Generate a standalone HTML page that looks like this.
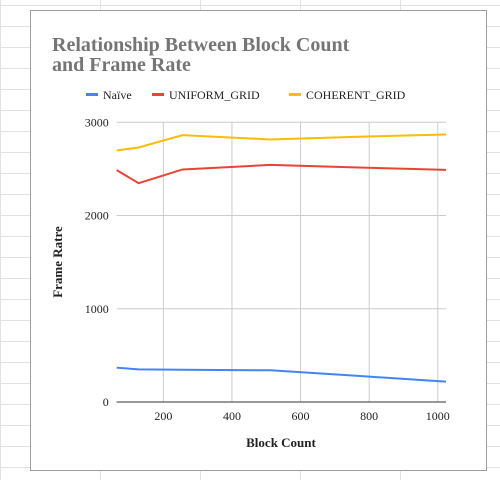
<!DOCTYPE html>
<html><head><meta charset="utf-8"><style>
body{margin:0;background:#fff;}
svg{display:block;font-family:"Liberation Serif",serif;}
</style></head><body>
<svg width="500" height="480">
<g id="bggrid" stroke="#e2e2e2" stroke-width="1"></g>
<rect x="30.5" y="10.5" width="456" height="460" fill="#fff" stroke="#9e9e9e"/>
<text x="52" y="51" font-size="20" font-weight="bold" fill="#757575">Relationship Between Block Count</text>
<text x="52" y="71" font-size="20" font-weight="bold" fill="#757575">and Frame Rate</text>
<g id="legend" font-size="12" fill="#222"></g>
<g id="grid"></g>
<g id="lines"></g>
<g id="ticks" font-size="12" fill="#222"></g>
<text x="281" y="447" font-size="13" font-weight="bold" text-anchor="middle" fill="#222">Block Count</text>
<text transform="translate(62,262) rotate(-90)" font-size="13" font-weight="bold" text-anchor="middle" fill="#222">Frame Ratre</text>
</svg>
<script>
const xs=[64,128,256,512,768,1024];
const naive=[368,350,346,340,280,218];
const uniform=[2487,2347,2494,2543,2515,2490];
const coherent=[2698,2730,2862,2816,2845,2869];
const seriesNames=["Naïve","UNIFORM_GRID","COHERENT_GRID"];
const xTicks=[200,400,600,800,1000];
const yTicks=[0,1000,2000,3000];
const NS="http://www.w3.org/2000/svg";
const L=116.7,R=446,T=122.3,B=402;
function X(v){return L+(v-64)/(1024-64)*(R-L);}
function Y(v){return B-v/3000*(B-T);}
function mk(t,a,p){const e=document.createElementNS(NS,t);for(const k in a)e.setAttribute(k,a[k]);p.appendChild(e);return e;}
const bg=document.getElementById('bggrid');
for(let y=5;y<480;y+=21){const l=mk('line',{x1:0,x2:500,y1:y+.5,y2:y+.5},bg);}
for(const x of [0,100,200,300,400,500]){mk('line',{x1:x+.5,x2:x+.5,y1:0,y2:480},bg);}
const g=document.getElementById('grid'),tk=document.getElementById('ticks');
yTicks.forEach(v=>{const l=mk('line',{x1:L,x2:R,y1:Y(v),y2:Y(v),stroke:v===0?'#333':'#ccc','stroke-width':1},g);


const t=mk('text',{x:L-8,y:Y(v)+4,'text-anchor':'end'},tk);t.textContent=v;

});
xTicks.forEach(v=>{const l=mk('line',{x1:X(v),x2:X(v),y1:T,y2:B,stroke:'#ccc','stroke-width':1},g);


const t=mk('text',{x:X(v),y:B+18,'text-anchor':'middle'},tk);t.textContent=v;

});
mk('line',{x1:L,x2:R,y1:B,y2:B,stroke:'#333'},g);
const colors=['#4285f4','#ea4335','#fbbc04'];
const data=[naive,uniform,coherent];
const lg=document.getElementById('lines');
data.forEach((d,i)=>{const p=mk('polyline',{points:d.map((v,j)=>X(xs[j])+','+Y(v)).join(' '),fill:'none',stroke:colors[i],'stroke-width':2},lg);

});
const leg=document.getElementById('legend');
const lx=[86,152,289];
seriesNames.forEach((n,i)=>{const r=mk('rect',{x:lx[i],y:93,width:12,height:3,fill:colors[i]},leg);


const t=mk('text',{x:lx[i]+17,y:99},leg);t.textContent=n;

});
</script>
</body></html>
